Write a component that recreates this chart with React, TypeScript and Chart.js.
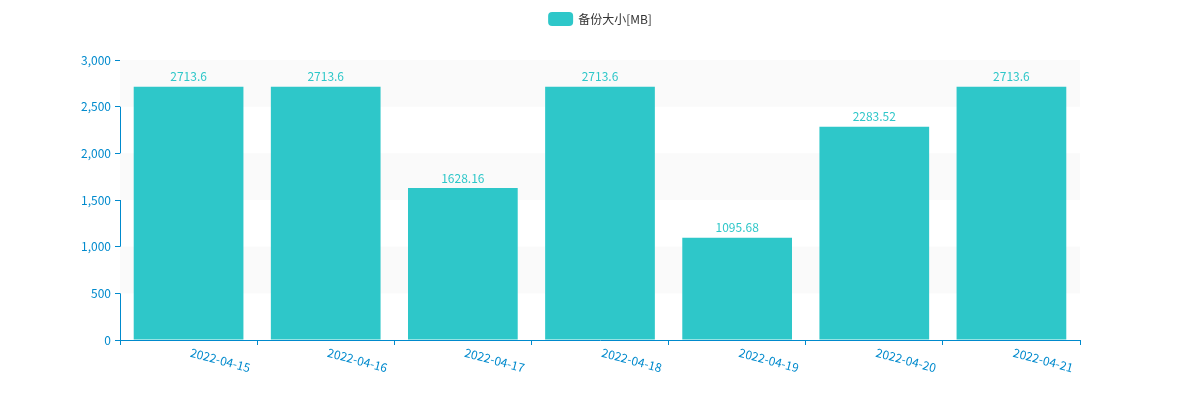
import { useEffect, useRef } from "react";
import { Chart, registerables } from "chart.js";

Chart.register(...registerables);

const dates = ["2022-04-15", "2022-04-16", "2022-04-17", "2022-04-18", "2022-04-19", "2022-04-20", "2022-04-21"];
const sizes = [2713.6, 2713.6, 1628.16, 2713.6, 1095.68, 2283.52, 2713.6];
const seriesName = "备份大小[MB]";

const AXIS = "#008ACD";
const BAR = "#2EC7C9";
const FONT = "'Noto Sans CJK SC', 'Noto Sans', sans-serif";

const extras = {
  id: "extras",
  beforeDatasetsDraw(chart: any) {
    const { ctx, chartArea: a, scales } = chart;
    const y = scales.y;
    const ticks = y.ticks.map((t: any) => t.value).sort((p: number, q: number) => p - q);
    ctx.save();
    ctx.fillStyle = "rgba(250,250,250,1)";
    for (let i = 0; i < ticks.length - 1; i++) {
      if (i % 2 === 1) {
        const top = y.getPixelForValue(ticks[i + 1]);
        const bot = y.getPixelForValue(ticks[i]);
        ctx.fillRect(a.left, top, a.right - a.left, bot - top);
      }
    }
    ctx.restore();
  },
  afterDatasetsDraw(chart: any) {
    const { ctx, chartArea: a, scales } = chart;
    const x = scales.x;
    const y = scales.y;
    ctx.save();
    ctx.font = `12px ${FONT}`;
    // value labels
    ctx.fillStyle = BAR;
    ctx.textAlign = "center";
    ctx.textBaseline = "bottom";
    sizes.forEach((v, i) => {
      ctx.fillText(String(v), x.getPixelForValue(i), y.getPixelForValue(v) - 4);
    });
    // rotated category labels
    ctx.fillStyle = AXIS;
    ctx.textAlign = "left";
    ctx.textBaseline = "middle";
    dates.forEach((d, i) => {
      ctx.save();
      ctx.translate(x.getPixelForValue(i) + 2, a.bottom + 12);
      ctx.rotate((15 * Math.PI) / 180);
      ctx.fillText(d, 0, 0);
      ctx.restore();
    });
    // legend
    const w = ctx.measureText(seriesName).width;
    const total = 25 + 5 + w;
    const lx = (chart.width - total) / 2;
    ctx.fillStyle = BAR;
    ctx.beginPath();
    ctx.roundRect(lx, 4, 25, 14, 4);
    ctx.fill();
    ctx.fillStyle = "#333";
    ctx.fillText(seriesName, lx + 30, 11);
    ctx.restore();
  },
};

export default function App() {
  const ref = useRef<HTMLCanvasElement>(null);

  useEffect(() => {
    if (!ref.current) return;
    const chart = new Chart(ref.current, {
      type: "bar",
      data: {
        labels: dates,
        datasets: [{
          label: seriesName,
          data: sizes,
          backgroundColor: BAR,
          barPercentage: 1,
          categoryPercentage: 0.8,
        }],
      },
      options: {
        responsive: true,
        maintainAspectRatio: false,
        animation: false,
        layout: { padding: { top: 52, right: 112, left: 0, bottom: 0 } },
        plugins: { legend: { display: false }, tooltip: { enabled: false } },
        scales: {
          x: {
            afterFit: (s: any) => { s.height = 52; },
            grid: { offset: true, drawOnChartArea: false, drawTicks: true, tickLength: 5, color: AXIS },
            border: { color: AXIS },
            ticks: { display: false },
          },
          y: {
            min: 0,
            max: 3000,
            afterFit: (s: any) => { s.width = 112; },
            grid: { drawOnChartArea: false, drawTicks: true, tickLength: 5, color: AXIS },
            border: { color: AXIS },
            ticks: { stepSize: 500, color: AXIS, font: { size: 12, family: FONT }, padding: 4 },
          },
        },
      },
      plugins: [extras],
    });
    return () => chart.destroy();
  }, []);

  return (
    <div style={{ position: "relative", width: "100%", height: 384 }}>
      <canvas ref={ref} />
    </div>
  );
}
